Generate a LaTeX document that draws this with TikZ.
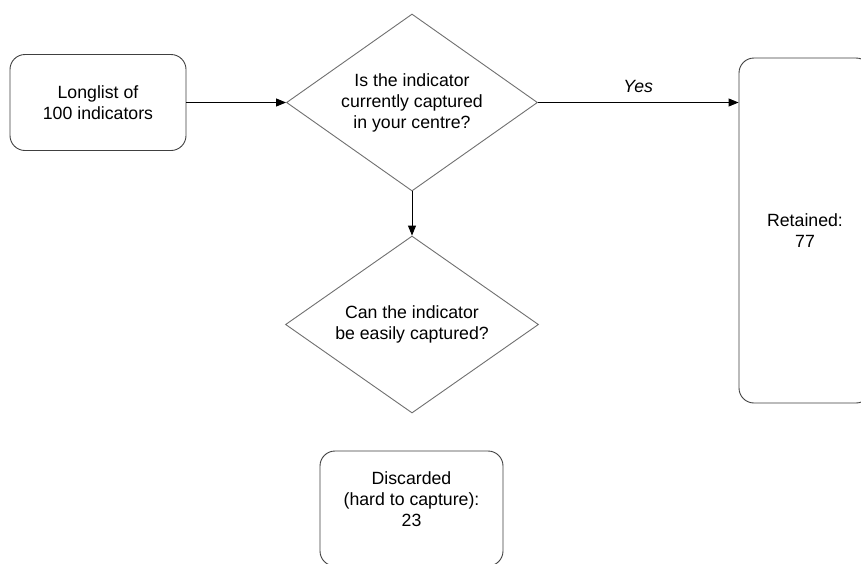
\documentclass[tikz,border=0pt]{standalone}
\usepackage{fontspec}
\setmainfont{Liberation Sans}
\usetikzlibrary{shapes.geometric,arrows.meta}
\definecolor{boxline}{HTML}{404040}
\definecolor{dialine}{HTML}{707070}
\tikzset{
  lbl/.style={font=\fontsize{17.7}{21}\selectfont, align=center, inner sep=0pt},
  rbox/.style={draw=boxline, line width=0.9pt, rounded corners=15pt, fill=white, inner sep=0pt},
  decision/.style={diamond, draw=dialine, line width=0.9pt, aspect=1.418, inner sep=0pt, fill=white,
    font=\fontsize{17.7}{21}\selectfont, align=center},
  conn/.style={draw=black, line width=0.9pt, -{Triangle[length=10pt,width=8pt]}}
}
\begin{document}
\begin{tikzpicture}[x=1pt,y=-1pt]
\clip (0,0) rectangle (861,563);
\fill[white] (0,0) rectangle (861,563);
\node[rbox, lbl, minimum width=176pt, minimum height=96pt] (long) at (98,102.5) {Longlist of\\100 indicators};
\node[decision, minimum width=251pt, minimum height=177pt] (d1) at (412,102.5) {Is the indicator\\currently captured\\in your centre?};
\node[decision, minimum width=253pt, minimum height=177pt] (d2) at (412,324.5) {Can the indicator\\be easily captured?};
\node[rbox, lbl, minimum width=132pt, minimum height=345pt] (ret) at (805,230.5) {Retained:\\77};
\node[rbox, minimum width=183pt, minimum height=115pt] (disc) at (411.5,508.5) {};
\node[lbl] (disctext) at (411.5,499) {Discarded\\(hard to capture):\\23};
\draw[conn] (long.east) -- (d1.west);
\draw[conn] (d1.east) -- (d1.east -| ret.west) node[midway, above=9pt, lbl, font=\fontsize{17.7}{21}\selectfont\itshape] (yes) {Yes};
\draw[conn] (d1.south) -- (d2.north);
\end{tikzpicture}
\end{document}
